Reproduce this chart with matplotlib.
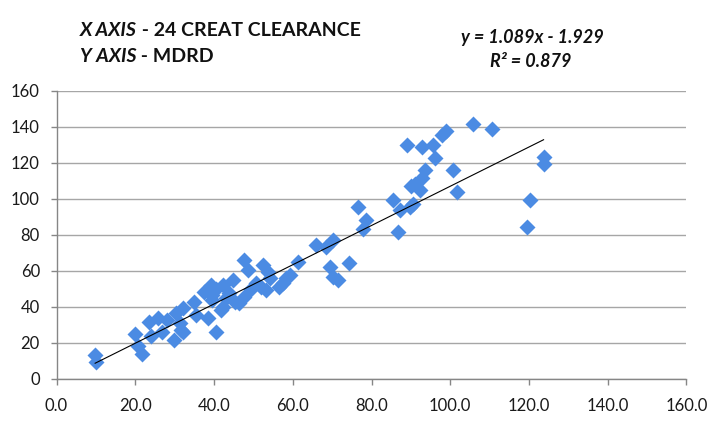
import matplotlib
matplotlib.use("Agg")
import matplotlib.pyplot as plt
import numpy as np

# 24h creatinine clearance (x) vs MDRD eGFR (y)
creat_clearance = [9.8, 10.1, 20.0, 20.8, 21.7, 23.5, 24.0, 25.7, 26.9, 28.0,
                   29.9, 30.3, 31.3, 31.6, 32.0, 32.2, 35.0, 35.4, 37.5, 38.4,
                   39.2, 39.6, 39.6, 40.5, 40.5, 41.8, 42.2, 42.2, 43.0, 43.9,
                   44.7, 45.2, 46.4, 47.7, 47.7, 48.5, 49.4, 50.7, 52.0, 52.4,
                   53.6, 53.2, 54.1, 56.6, 57.5, 58.3, 59.2, 61.3, 66.0, 68.5,
                   70.2, 69.5, 70.2, 71.5, 74.4, 76.5, 77.8, 78.7, 85.4, 86.7,
                   87.2, 89.7, 90.5, 89.0, 90.1, 92.2, 91.0, 92.7, 93.5, 92.7,
                   95.6, 96.1, 97.8, 99.0, 100.7, 101.6, 105.8, 110.5, 119.4, 120.2,
                   123.7, 123.7]
mdrd = [13.3, 9.6, 24.9, 18.4, 13.9, 31.7, 23.8, 33.6, 26.2, 32.7,
        21.6, 36.4, 30.9, 27.1, 39.2, 26.2, 42.8, 35.5, 48.4, 33.6,
        52.0, 46.5, 43.8, 26.2, 50.2, 38.2, 40.0, 52.0, 44.7, 47.5,
        54.8, 42.8, 41.9, 45.6, 65.9, 60.4, 50.2, 53.0, 51.0, 63.2,
        59.5, 49.3, 55.8, 51.1, 53.0, 55.8, 57.6, 65.0, 74.5, 73.0,
        77.0, 62.2, 56.5, 54.8, 64.6, 95.5, 83.0, 88.1, 99.2, 81.6,
        93.6, 95.5, 97.3, 129.6, 107.0, 104.7, 108.4, 111.6, 115.8, 128.6,
        130.1, 122.8, 135.2, 137.5, 116.2, 103.8, 141.4, 138.9, 84.4, 99.2,
        123.2, 119.5]

slope = 1.089
intercept = -1.929
r_squared = 0.879

x_ticks = [0, 20, 40, 60, 80, 100, 120, 140, 160]
y_ticks = [0, 20, 40, 60, 80, 100, 120, 140, 160]

plt.rcParams['font.family'] = ['Lato', 'DejaVu Sans']

fig = plt.figure(figsize=(7.07, 4.21), dpi=100)
ax = fig.add_axes([0.080, 0.0998, 0.891, 0.6848])

ax.plot(creat_clearance, mdrd, ls='none', marker='D', ms=8.6,
        color='#4B8BE3', mec='none', zorder=3)

# linear trend line from the stated fit
xs = np.array([min(creat_clearance), max(creat_clearance)])
ax.plot(xs, slope * xs + intercept, color='black', lw=0.8, zorder=4)

ax.set_xlim(0, 160)
ax.set_ylim(0, 160)
ax.set_xticks(x_ticks)
ax.set_xticklabels(["%.1f" % v for v in x_ticks])
ax.set_yticks(y_ticks)
ax.set_yticklabels([str(v) for v in y_ticks])
ax.yaxis.grid(True, color='#A6A6A6', lw=1.0)
ax.set_axisbelow(True)
for s in ['top', 'right']:
    ax.spines[s].set_visible(False)
for s in ['left', 'bottom']:
    ax.spines[s].set_color('#868686')
    ax.spines[s].set_linewidth(1.0)
ax.tick_params(axis='both', direction='out', length=4, width=1.0,
               color='#868686', labelsize=12, labelcolor='#1A1A1A')
ax.tick_params(axis='y', pad=8)
ax.tick_params(axis='x', pad=10)

# title text, two lines, italic "X AXIS"/"Y AXIS" part
t1 = fig.text(80 / 707, 1 - 36 / 421, "X AXIS", fontsize=14, fontweight='bold',
              fontstyle='italic', va='baseline', ha='left', color='#111111')
fig.canvas.draw()
ax.annotate(" - 24 CREAT CLEARANCE", xy=(1, 0), xycoords=t1, fontsize=14,
            fontweight='bold', va='bottom', ha='left', color='#111111',
            annotation_clip=False)
t2 = fig.text(80 / 707, 1 - 62 / 421, "Y AXIS", fontsize=14, fontweight='bold',
              fontstyle='italic', va='baseline', ha='left', color='#111111')
ax.annotate(" - MDRD", xy=(1, 0), xycoords=t2, fontsize=14,
            fontweight='bold', va='bottom', ha='left', color='#111111',
            annotation_clip=False)

fig.text(532 / 707, 1 - 43 / 421, "y = %.3fx - %.3f" % (slope, -intercept),
         fontsize=13, fontweight='bold', fontstyle='italic', ha='center',
         va='baseline', color='#111111')
fig.text(531 / 707, 1 - 67 / 421, "R\u00b2 = %.3f" % r_squared,
         fontsize=13, fontweight='bold', fontstyle='italic', ha='center',
         va='baseline', color='#111111')

fig.savefig("out.png", dpi=100)
